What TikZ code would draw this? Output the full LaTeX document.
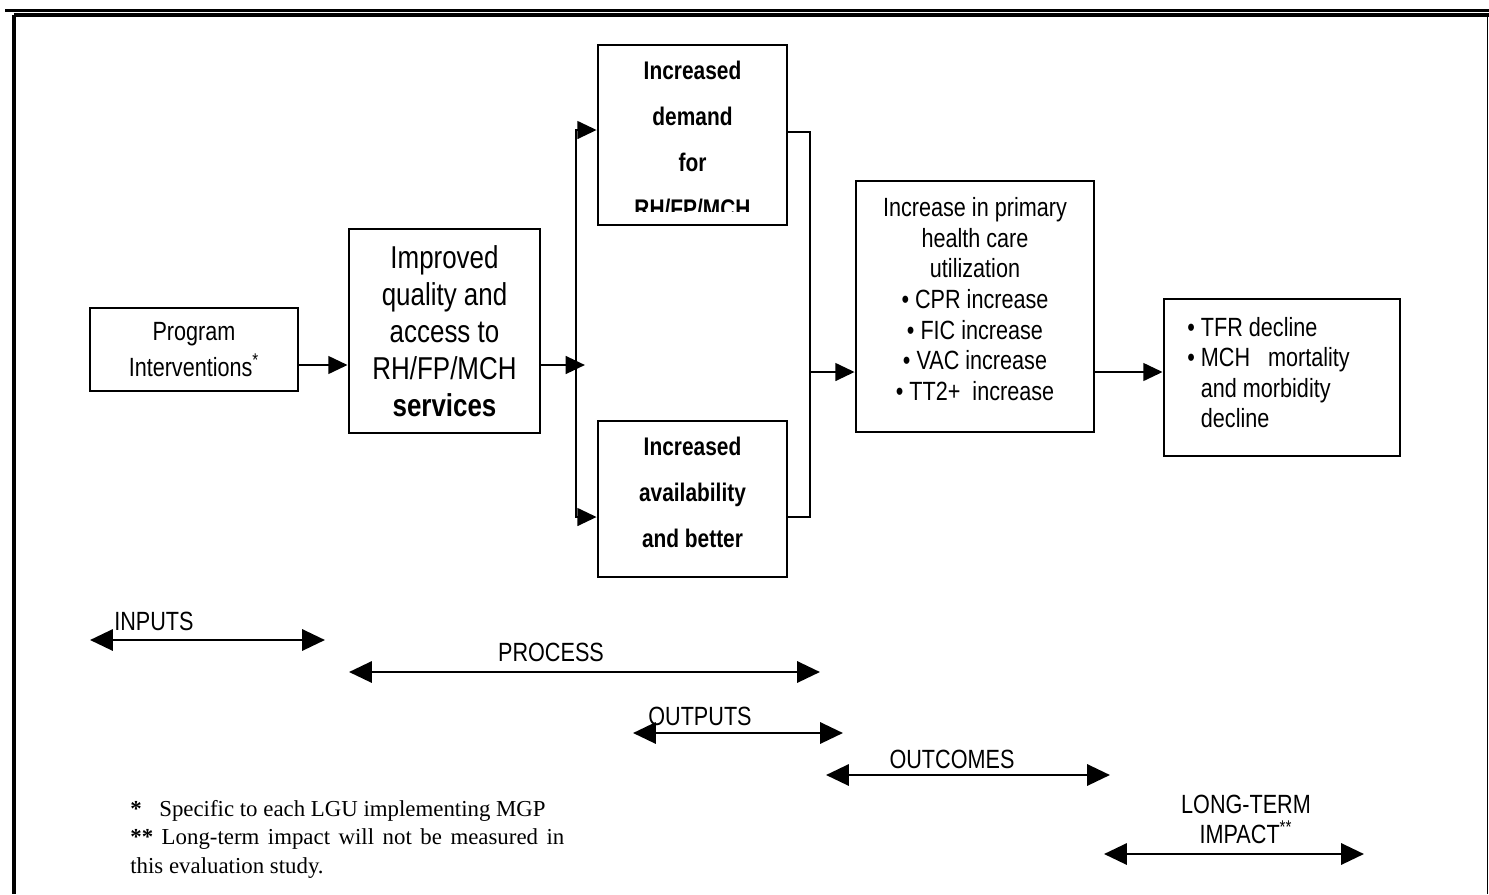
\documentclass[tikz,border=0pt]{standalone}
\usepackage{fontspec}
\setmainfont{Liberation Sans}[FakeStretch=0.82]
\newfontfamily\notefont{Liberation Serif}
\usetikzlibrary{arrows.meta,calc}

\begin{document}
\begin{tikzpicture}[
  x=0.02cm, y=-0.02cm, >={Triangle[length=11pt,width=10pt]},
  box/.style={draw, line width=1.6pt, inner sep=0pt},
  txt/.style={inner sep=0pt, align=center, font=\fontsize{15}{17.4}\selectfont},
  boldtxt/.style={inner sep=0pt, align=center, font=\fontsize{14.5}{26.2}\selectfont\bfseries},
  arr/.style={->, line width=1.6pt},
  link/.style={line width=1.6pt},
  span/.style={<->, line width=1.6pt, >={Triangle[length=13pt,width=12pt]}},
  phase/.style={inner sep=0pt, align=center, font=\fontsize{15}{17}\selectfont},
]
\useasboundingbox (0,0) rectangle (1489,894);

% outer frame of the page
\draw[line width=1.2pt] (5,10.5) -- (1489,10.5);
\draw[line width=1.8pt] (14,15) -- (1489,15);
\draw[line width=1.8pt] (14,15) -- (14,894);
\draw[line width=0.5pt] (1487,15) -- (1487,894);

% boxes, left to right (units: px of the reference)
\node[box, minimum width=118.4pt, minimum height=47.2pt, txt, font=\fontsize{15}{20}\selectfont] (prog) at (194,349.5)
  {Program\\Interventions\textsuperscript{*}};
\node[box, minimum width=108.7pt, minimum height=116.1pt, txt, font=\fontsize{18}{21}\selectfont] (qual) at (444.5,331)
  {Improved\\quality and\\access to\\RH/FP/MCH\\\textbf{services}};

\node[box, minimum width=107.5pt, minimum height=102.4pt] (dem) at (692.5,135) {};
\node[box, minimum width=107.5pt, minimum height=88.8pt] (avail) at (692.5,499) {};
% text of the two middle boxes runs past their bottom edge
\begin{scope}
  \clip (598,45) rectangle (787,211);
  \node[boldtxt, anchor=north] (demtxt) at (692.5,61) {Increased\\demand\\for\\RH/FP/MCH};
\end{scope}
\node[boldtxt, anchor=north] (availtxt) at (692.5,437) {Increased\\availability\\and better};

\node[box, minimum width=135.4pt, minimum height=142.8pt] (util) at (975,306.5) {};
\node[txt] (utiltxt) at (975,299)
  {Increase in primary\\health care\\utilization\\\textbullet\ CPR increase\\\textbullet\ FIC increase\\
   \textbullet\ VAC increase\\\textbullet\ TT2+\ \ increase};

\node[box, minimum width=134.3pt, minimum height=89.3pt] (ltim) at (1282,377.5) {};
\node[txt, align=left, anchor=west] (ltimtxt) at (1187,372.5)
  {\textbullet\ TFR decline\\\textbullet\ MCH\ \ \ mortality\\\phantom{\textbullet\ }and morbidity\\\phantom{\textbullet\ }decline};

% split and merge points
\coordinate (forktip) at (585,365);
\coordinate (fork) at (576,365);
\coordinate (forkt) at (576,130);
\coordinate (forkb) at (576,517);
\coordinate (joint) at (810,132);
\coordinate (joinb) at (810,517);
\coordinate (join) at (810,372);

\draw[arr] (forktip -| prog.east) -- (forktip -| qual.west);
\draw[arr] (forktip -| qual.east) -- (forktip);
\draw[arr] (fork) -- (forkt) -- (forkt -| dem.west);
\draw[arr] (fork) -- (forkb) -- (forkb -| avail.west);
\draw[link] (joint -| dem.east) -- (joint) -- (joinb) -- (joinb -| avail.east);
\draw[arr] (join) -- (join -| util.west);
\draw[arr] (join -| util.east) -- (join -| ltim.west);

% phases
\node[phase, anchor=west] (inlab) at (114,621) {INPUTS};
\coordinate (inL) at (90,640);
\coordinate (inR) at (325,640);
\draw[span] (inL) -- (inR);

\node[phase] (prlab) at (551,652) {PROCESS};
\coordinate (prL) at (349,672);
\coordinate (prR) at (820,672);
\draw[span] (prL) -- (prR);

\node[phase] (outlab) at (700,716) {OUTPUTS};
\coordinate (outL) at (633,733);
\coordinate (outR) at (843,733);
\draw[span] (outL) -- (outR);

\node[phase] (ocmlab) at (952,759) {OUTCOMES};
\coordinate (ocmL) at (826,775);
\coordinate (ocmR) at (1110,775);
\draw[span] (ocmL) -- (ocmR);

\node[phase, font=\fontsize{15}{17.1}\selectfont] (ltlab) at (1246,819) {LONG-TERM\\IMPACT\textsuperscript{**}};
\coordinate (ltL) at (1104,854);
\coordinate (ltR) at (1364,854);
\draw[span] (ltL) -- (ltR);

% footnotes
\node[inner sep=0pt, align=left, anchor=north west, font=\notefont\fontsize{13}{16.2}\selectfont] (notes) at (130,800)
  {\textbf{*}\hspace{10pt}Specific to each LGU implementing MGP\\
   \makebox[247pt][s]{\textbf{**} Long-term impact will not be measured in}\\
   this evaluation study.};
\end{tikzpicture}
\end{document}
